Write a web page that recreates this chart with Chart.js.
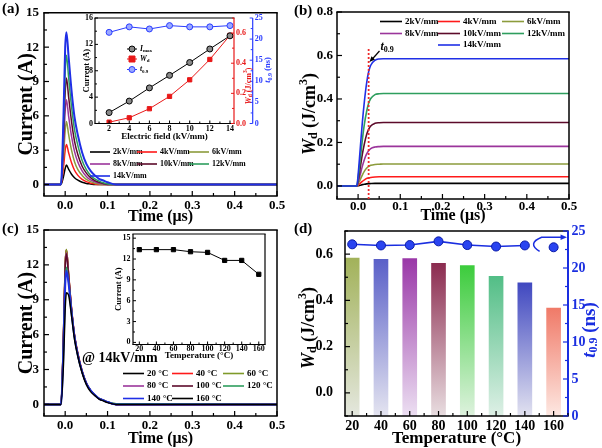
<!DOCTYPE html>
<html><head><meta charset="utf-8">
<script src="https://cdn.jsdelivr.net/npm/chart.js@4.4.1/dist/chart.umd.min.js"></script>
<style>
html,body{margin:0;padding:0;background:#fff;}
#wrap{position:relative;width:602px;height:448px;overflow:hidden;background:#fff}
canvas{position:absolute;left:0;top:0}
</style></head><body>
<div id="wrap">
<canvas id="cA" width="602" height="448"></canvas>
<canvas id="cAi" width="602" height="448"></canvas>
<canvas id="cB" width="602" height="448"></canvas>
<canvas id="cC" width="602" height="448"></canvas>
<canvas id="cCi" width="602" height="448"></canvas>
<canvas id="cD" width="602" height="448"></canvas>
</div>
<script>
// ---------------- DATA ----------------
const FIELDS = ['2kV/mm','4kV/mm','6kV/mm','8kV/mm','10kV/mm','12kV/mm','14kV/mm'];
const FIELD_COLORS = ['#000000','#ff1a1a','#8c9c3c','#9b359b','#5c0a2a','#2e9e5e','#1f2fe6'];

// (a) discharge current vs time (µs)
const TIME_A = [-0.05,-0.01,-0.004,0,0.003,0.008,0.015,0.022,0.03,0.04,0.05,0.06,0.07,0.08,0.09,0.1,0.12,0.5];
const CUR_2KV  = [0,0,0.7,1.4,1.7,1.35,0.9,0.6,0.38,0.2,0.1,0.05,0,0,0,0,0,0];
const CUR_4KV  = [0,0,1.5,3.0,3.5,2.8,1.9,1.25,0.8,0.45,0.25,0.12,0.05,0,0,0,0,0];
const CUR_6KV  = [0,0,2.4,4.7,5.5,4.4,3.0,2.0,1.3,0.8,0.45,0.25,0.12,0.05,0,0,0,0];
const CUR_8KV  = [0,0,3.2,6.4,7.4,6.0,4.2,2.9,1.95,1.2,0.7,0.4,0.25,0.12,0.05,0,0,0];
const CUR_10KV = [0,0,4.1,8.0,9.3,7.7,5.5,3.8,2.6,1.6,1.0,0.6,0.35,0.2,0.1,0,0,0];
const CUR_12KV = [0,0,5.0,9.8,11.3,9.4,6.8,4.8,3.4,2.1,1.3,0.8,0.5,0.3,0.15,0.05,0,0];
const CUR_14KV = [0,0,6.0,12.0,13.3,11.2,8.2,5.9,4.3,2.8,1.8,1.2,0.8,0.5,0.35,0.2,0,0];

// (a) inset
const E_FIELD = [2,4,6,8,10,12,14];
const IMAX_E = [1.65,3.4,5.4,7.3,9.25,11.3,13.3];
const WD_E   = [0.009,0.038,0.098,0.18,0.29,0.425,0.585];
const T09_E  = [21.6,22.9,22.4,23.2,22.9,22.9,23.2];

// (b) discharged energy density vs time
const TIME_B = [-0.05,-0.003,0,0.005,0.01,0.015,0.02,0.025,0.03,0.04,0.05,0.06,0.08,0.5];
const WD_2KV  = [0,0,0.001,0.003,0.006,0.008,0.0095,0.0105,0.011,0.0118,0.012,0.012,0.012,0.012];
const WD_4KV  = [0,0,0.003,0.012,0.021,0.028,0.034,0.037,0.039,0.041,0.042,0.042,0.042,0.042];
const WD_6KV  = [0,0,0.008,0.029,0.05,0.068,0.081,0.09,0.095,0.099,0.1,0.101,0.101,0.101];
const WD_8KV  = [0,0,0.015,0.052,0.09,0.122,0.146,0.162,0.172,0.179,0.181,0.182,0.182,0.182];
const WD_10KV = [0,0,0.024,0.083,0.145,0.195,0.235,0.26,0.276,0.288,0.291,0.292,0.292,0.292];
const WD_12KV = [0,0,0.035,0.12,0.21,0.285,0.34,0.38,0.402,0.42,0.424,0.425,0.425,0.425];
const WD_14KV = [0,0,0.05,0.17,0.29,0.39,0.47,0.525,0.555,0.578,0.584,0.585,0.585,0.585];
const T09_MARK = 0.025;
const T09_MARK_TOP = 0.635;

// (c) current at 14 kV/mm for temperatures
const TEMP_LABELS = ['20 °C','40 °C','60 °C','80 °C','100 °C','120 °C','140 °C','160 °C'];
const TEMP_COLORS = ['#000000','#ff1a1a','#7f9a2a','#9b359b','#5c0a2a','#2e9e5e','#1f2fe6','#000000'];
const TIME_C = [-0.05,-0.01,-0.004,0,0.003,0.008,0.015,0.022,0.03,0.04,0.05,0.06,0.07,0.08,0.09,0.1,0.12,0.5];
const CUR_20C  = [0,0,6.0,12.0,13.3,11.2,8.2,5.9,4.3,2.8,1.8,1.2,0.8,0.5,0.35,0.2,0,0];
const CUR_40C  = [0,0,6.0,12.0,13.3,11.3,8.3,6.0,4.4,2.9,1.85,1.2,0.8,0.5,0.35,0.2,0,0];
const CUR_60C  = [0,0,6.1,12.1,13.35,11.2,8.2,5.9,4.3,2.8,1.8,1.2,0.8,0.5,0.35,0.2,0.05,0];
const CUR_80C  = [0,0,5.8,11.7,13.05,11.1,8.2,5.9,4.3,2.8,1.8,1.2,0.8,0.5,0.35,0.2,0,0];
const CUR_100C = [0,0,5.8,11.6,12.95,11.0,8.1,5.9,4.3,2.8,1.8,1.2,0.8,0.5,0.35,0.2,0,0];
const CUR_120C = [0,0,5.0,10.5,11.8,10.6,8.0,5.8,4.2,2.8,1.8,1.2,0.8,0.5,0.35,0.2,0.05,0];
const CUR_140C = [0,0,4.8,10.2,11.5,10.4,7.9,5.8,4.2,2.8,1.8,1.2,0.8,0.5,0.35,0.2,0,0];
const CUR_160C = [0,0,3.5,8.2,9.6,9.4,7.6,5.6,4.1,2.7,1.7,1.1,0.75,0.45,0.3,0.15,0,0];

// (c) inset
const TEMPS = [20,40,60,80,100,120,140,160];
const IMAX_T = [13.35,13.35,13.35,13.05,12.95,11.8,11.8,9.8];

// (d)
const WD_TEMP  = [0.583,0.578,0.581,0.560,0.551,0.504,0.476,0.367];
const T09_TEMP = [23.2,23.05,23.1,23.6,23.1,22.9,23.05,22.8];
const BAR_TOP_COLORS    = ['#a2b25a','#5a60c8','#9a38a8','#8c2c50','#3ccc3c','#52be86','#4048c0','#f07a68'];
const BAR_BOTTOM_COLORS = ['#e4e7de','#e4e4f0','#ecdff2','#e8dde0','#def2de','#def0e6','#e2e2f0','#fde8e2'];

// tick values
const TICKS_TIME = [0,0.1,0.2,0.3,0.4,0.5];
const TICKS_CURRENT = [0,3,6,9,12,15];
const TICKS_WD = [0,0.2,0.4,0.6,0.8];
const TICKS_E = [2,4,6,8,10,12,14];
const TICKS_IA = [0,4,8,12,16];
const TICKS_WA = [0,0.2,0.4,0.6];
const TICKS_TA = [0,5,10,15,20,25];
const TICKS_TEMP = [20,40,60,80,100,120,140,160];
const TICKS_IC = [0,3,6,9,12,15];
const TICKS_WDD = [0,0.2,0.4,0.6];
const TICKS_T09 = [0,5,10,15,20,25];

// ---------------- SETUP ----------------
const F = "'Liberation Serif','Times New Roman',serif";
Chart.defaults.font.family = F;
Chart.defaults.font.weight = 'bold';
Chart.defaults.color = '#000';
Chart.defaults.animation = false;
Chart.defaults.responsive = false;
Chart.defaults.devicePixelRatio = 1;
Chart.defaults.events = [];
Chart.defaults.plugins.legend.display = false;
Chart.defaults.plugins.tooltip.enabled = false;

const BLUE = '#1a2ee0';
const RED = '#e81818';
const f1 = v => Number(v).toFixed(1);

function pf(p){ return (p.italic?'italic ':'') + 'bold ' + p.size + 'px ' + F; }
function drawRich(ctx, x, y, parts, opt){
  opt = opt || {};
  ctx.save();
  ctx.translate(x, y);
  if (opt.rot) ctx.rotate(opt.rot*Math.PI/180);
  ctx.textBaseline = 'middle'; ctx.textAlign = 'left';
  let total = 0;
  const ws = parts.map(p => { ctx.font = pf(p); const w = ctx.measureText(p.t).width; total += w; return w; });
  let cx = opt.align === 'left' ? 0 : (opt.align === 'right' ? -total : -total/2);
  parts.forEach((p,i) => { ctx.font = pf(p); ctx.fillStyle = p.color || opt.color || '#000'; ctx.fillText(p.t, cx, p.dy || 0); cx += ws[i]; });
  ctx.restore();
}
function arrowHead(ctx, x1, y1, x2, y2, size, color){
  const ang = Math.atan2(y2-y1, x2-x1);
  ctx.save(); ctx.fillStyle = color;
  ctx.beginPath(); ctx.moveTo(x2, y2);
  ctx.lineTo(x2 - size*Math.cos(ang-0.4), y2 - size*Math.sin(ang-0.4));
  ctx.lineTo(x2 - size*Math.cos(ang+0.4), y2 - size*Math.sin(ang+0.4));
  ctx.closePath(); ctx.fill(); ctx.restore();
}
function drawMarker(ctx, ds, x, y){
  const r = ds.pointRadius || 3;
  ctx.save(); ctx.fillStyle = ds.pointBackgroundColor || ds.borderColor; ctx.strokeStyle = ds.pointBorderColor || ds.borderColor; ctx.lineWidth = 1;
  ctx.beginPath();
  if (ds.pointStyle === 'rect') ctx.rect(x-r, y-r, 2*r, 2*r); else ctx.arc(x, y, r, 0, Math.PI*2);
  ctx.fill(); ctx.stroke(); ctx.restore();
}

function decorPlugin(cfg){
  return { id:'decor', afterDraw(chart){
    const ctx = chart.ctx, a = chart.chartArea;
    ctx.save();
    ctx.setLineDash([]);
    if (cfg.frame){
      const fr = cfg.frame;
      const side = (c,w,x1,y1,x2,y2) => { ctx.strokeStyle = c; ctx.lineWidth = w; ctx.beginPath(); ctx.moveTo(x1,y1); ctx.lineTo(x2,y2); ctx.stroke(); };
      const w = fr.width || 1.5;
      side(fr.top||'#000', w, a.left-w/2, a.top, a.right+w/2, a.top);
      side(fr.bottom||'#000', w, a.left-w/2, a.bottom, a.right+w/2, a.bottom);
      side(fr.left||'#000', w, a.left, a.top, a.left, a.bottom);
      side(fr.right||'#000', fr.rightWidth||w, a.right, a.top, a.right, a.bottom);
    }
    (cfg.axisLines||[]).forEach(l => {
      const s = chart.scales[l.scale];
      ctx.strokeStyle = l.color; ctx.lineWidth = l.width || 1.5;
      ctx.beginPath(); ctx.moveTo(s.left, a.top); ctx.lineTo(s.left, a.bottom); ctx.stroke();
    });
    (cfg.ticks||[]).forEach(t => {
      const s = chart.scales[t.scale]; if (!s) return;
      const vals = s.ticks.map(k => k.value);
      ctx.strokeStyle = t.color || '#000'; ctx.lineWidth = t.width || 1.2;
      const draw = (v, len) => {
        const p = s.getPixelForValue(v);
        ctx.beginPath();
        if (s.position === 'bottom'){ ctx.moveTo(p, s.top); ctx.lineTo(p, s.top-len); }
        else if (s.position === 'left'){ ctx.moveTo(s.right, p); ctx.lineTo(s.right+len, p); }
        else { ctx.moveTo(s.left, p); ctx.lineTo(s.left-len, p); }
        ctx.stroke();
      };
      vals.forEach(v => draw(v, t.len));
      if (t.minor && vals.length > 1){
        const step = (vals[1]-vals[0])/(t.minor+1);
        for (let v = vals[0]-step; v >= s.min-1e-9; v -= step) draw(v, t.mlen);
        vals.forEach(v0 => { for (let k=1;k<=t.minor;k++){ const v = v0+k*step; if (v <= s.max+1e-9) draw(v, t.mlen); } });
      }
    });
    if (cfg.legend){
      const L = cfg.legend;
      L.items.forEach(it => {
        const ds = chart.data.datasets[it.ds];
        ctx.strokeStyle = ds.borderColor; ctx.lineWidth = L.lw || 1.6;
        ctx.beginPath(); ctx.moveTo(it.x, it.y); ctx.lineTo(it.x+L.len, it.y); ctx.stroke();
        if (L.marker) drawMarker(ctx, ds, it.x+L.len/2, it.y);
        const parts = it.parts || [{t: ds.label, size: L.size}];
        drawRich(ctx, it.x+L.len+(L.gap||3), it.y, parts, {align:'left'});
      });
    }
    (cfg.texts||[]).forEach(t => drawRich(ctx, t.x, t.y, t.parts, t));
    if (cfg.extra) cfg.extra(chart, ctx, a);
    ctx.restore();
  }};
}

function axis(o){
  const s = {
    type:'linear', min:o.min, max:o.max, position:o.pos, offset:false,
    grid:{display:false, drawTicks:false, offset:false}, border:{display:false},
    ticks:{font:{size:o.fs}, padding:o.pad, color:o.color||'#000', autoSkip:false, maxRotation:0, minRotation:0,
           callback: o.fmt || (v => String(v))},
    afterBuildTicks: sc => { sc.ticks = o.ticks.map(v => ({value:v})); },
    afterFit: sc => { if (o.pos === 'bottom') sc.height = o.size; else sc.width = o.size; }
  };
  if (o.weight !== undefined) s.weight = o.weight;
  if (o.title) s.title = {display:true, text:o.title, color:o.color||'#000', font:{size:o.tfs}, padding:o.tpad};
  return s;
}
function xy(xs, ys){ return xs.map((x,i) => ({x:x, y:ys[i]})); }

// ---------------- (a) ----------------
const SERIES_A = [CUR_2KV,CUR_4KV,CUR_6KV,CUR_8KV,CUR_10KV,CUR_12KV,CUR_14KV];
new Chart(document.getElementById('cA'), {
  type:'line',
  data:{datasets: SERIES_A.map((arr,i) => ({label:FIELDS[i], data:xy(TIME_A, arr), borderColor:FIELD_COLORS[i],
        borderWidth: i===6 ? 2 : 1.5, pointRadius:0, cubicInterpolationMode:'monotone', order:7-i}))},
  options:{
    layout:{padding:{left:0, top:10, right:325, bottom:222}},
    scales:{
      x: axis({pos:'bottom', min:-0.05, max:0.5, ticks:TICKS_TIME, fs:13, pad:2, size:30, fmt:f1, title:'Time (μs)', tfs:16, tpad:{top:0,bottom:0}}),
      y: axis({pos:'left', min:-1, max:15, ticks:TICKS_CURRENT, fs:13, pad:5, size:44, title:'Current (A)', tfs:20, tpad:{top:15,bottom:0}})
    }
  },
  plugins:[decorPlugin({
    frame:{},
    ticks:[{scale:'x',len:5,mlen:3,minor:1},{scale:'y',len:5,mlen:3,minor:1}],
    legend:{size:8, len:20, items:[
      {ds:0,x:90,y:152},{ds:1,x:137,y:152},{ds:2,x:189,y:152},
      {ds:3,x:90,y:164},{ds:4,x:137,y:164},{ds:5,x:189,y:164},
      {ds:6,x:90,y:176}]},
    texts:[{x:2,y:9,align:'left',parts:[{t:'(a)',size:15}]}]
  })]
});

// ---------------- (a) inset ----------------
new Chart(document.getElementById('cAi'), {
  type:'line',
  data:{datasets:[
    {label:'Imax', data:xy(E_FIELD, IMAX_E), yAxisID:'yI', borderColor:'#000', borderWidth:1, pointRadius:3,
     pointStyle:'circle', pointBackgroundColor:'#8a8a8a', pointBorderColor:'#000', pointBorderWidth:1},
    {label:'Wd', data:xy(E_FIELD, WD_E), yAxisID:'yW', borderColor:RED, borderWidth:1, pointRadius:3,
     pointStyle:'rect', pointBackgroundColor:RED, pointBorderColor:RED},
    {label:'t0.9', data:xy(E_FIELD, T09_E), yAxisID:'yT', borderColor:'#2a3cff', borderWidth:1, pointRadius:3,
     pointStyle:'circle', pointBackgroundColor:'#9aa8ff', pointBorderColor:'#2a3cff', pointBorderWidth:1}
  ]},
  options:{
    layout:{padding:{left:80, top:18, right:327, bottom:306}},
    scales:{
      x: axis({pos:'bottom', min:0.6, max:14.4, ticks:TICKS_E, fs:8, pad:1, size:18.5, title:'Electric field (kV/mm)', tfs:9, tpad:{top:0,bottom:0}}),
      yI: axis({pos:'left', min:0, max:16, ticks:TICKS_IA, fs:8, pad:2, size:15, title:'Current (A)', tfs:8.5, tpad:{top:1.9,bottom:0}}),
      yW: axis({pos:'right', min:0, max:0.7, ticks:TICKS_WA, fs:8, pad:2, size:18.7, color:RED, fmt:f1, weight:0}),
      yT: axis({pos:'right', min:0, max:25, ticks:TICKS_TA, fs:8, pad:2, size:22.3, color:'#2a3cff', weight:1})
    }
  },
  plugins:[decorPlugin({
    frame:{right:RED, width:1.2},
    axisLines:[{scale:'yT', color:'#2a3cff', width:1.2}],
    ticks:[{scale:'x',len:3,mlen:2,minor:1,width:1},{scale:'yI',len:3,mlen:2,minor:1,width:1},
           {scale:'yW',len:3,mlen:2,minor:1,color:RED,width:1},{scale:'yT',len:3,mlen:2,minor:1,color:'#2a3cff',width:1}],
    legend:{len:10, lw:1, marker:true, items:[
      {ds:0,x:127,y:49,parts:[{t:'I',italic:1,size:7.5},{t:'max',size:5,dy:2}]},
      {ds:1,x:127,y:59,parts:[{t:'W',italic:1,size:7.5},{t:'d',size:5,dy:2}]},
      {ds:2,x:127,y:69.5,parts:[{t:'t',italic:1,size:7.5},{t:'0.9',size:5,dy:2}]}]},
    texts:[
      {x:248.5,y:86,rot:-90,color:RED,parts:[{t:'W',italic:1,size:8},{t:'d',size:5.5,dy:2},{t:' (J/cm',size:8},{t:'3',size:5.5,dy:-3},{t:')',size:8}]},
      {x:268,y:70,rot:-90,color:'#2a3cff',parts:[{t:'t',italic:1,size:8.5},{t:'0.9',size:6,dy:2},{t:' (ns)',size:8.5}]}
    ]
  })]
});

// ---------------- (b) ----------------
const SERIES_B = [WD_2KV,WD_4KV,WD_6KV,WD_8KV,WD_10KV,WD_12KV,WD_14KV];
new Chart(document.getElementById('cB'), {
  type:'line',
  data:{datasets: SERIES_B.map((arr,i) => ({label:FIELDS[i], data:xy(TIME_B, arr), borderColor:FIELD_COLORS[i],
        borderWidth:1.6, pointRadius:0, cubicInterpolationMode:'monotone', order:7-i}))},
  options:{
    layout:{padding:{left:290, top:12, right:33, bottom:222}},
    scales:{
      x: axis({pos:'bottom', min:-0.05, max:0.5, ticks:TICKS_TIME, fs:13, pad:0, size:27, fmt:f1, title:'Time (μs)', tfs:16, tpad:{top:0,bottom:0.4}}),
      y: axis({pos:'left', min:-0.06, max:0.8, ticks:TICKS_WD, fs:13, pad:4, size:47, fmt:f1})
    }
  },
  plugins:[decorPlugin({
    frame:{},
    ticks:[{scale:'x',len:5,mlen:3,minor:1},{scale:'y',len:5,mlen:3,minor:1}],
    legend:{size:9, len:22, items:[
      {ds:0,x:380,y:21.5},{ds:1,x:438,y:21.5},{ds:2,x:502,y:21.5},
      {ds:3,x:380,y:33.5},{ds:4,x:438,y:33.5},{ds:5,x:502,y:33.5},
      {ds:6,x:438,y:45}]},
    texts:[
      {x:294,y:11,align:'left',parts:[{t:'(b)',size:15}]},
      {x:310,y:114,rot:-90,parts:[{t:'W',italic:1,size:18},{t:'d',size:12,dy:4},{t:' (J/cm',size:18},{t:'3',size:12,dy:-6},{t:')',size:18}]}
    ],
    extra:(chart, ctx, a) => {
      const xs = chart.scales.x, ys = chart.scales.y;
      const px = xs.getPixelForValue(T09_MARK);
      ctx.strokeStyle = '#ee2a2a'; ctx.lineWidth = 1.8; ctx.setLineDash([2,2]);
      ctx.beginPath(); ctx.moveTo(px, a.bottom); ctx.lineTo(px, ys.getPixelForValue(T09_MARK_TOP)); ctx.stroke();
      ctx.setLineDash([]);
      const tx = xs.getPixelForValue(0.027), ty = ys.getPixelForValue(0.57);
      const sx = tx + 10, sy = ty - 11;
      ctx.strokeStyle = '#000'; ctx.lineWidth = 1.2;
      ctx.beginPath(); ctx.moveTo(sx, sy); ctx.lineTo(tx+2, ty-2); ctx.stroke();
      arrowHead(ctx, sx, sy, tx, ty, 6, '#000');
      drawRich(ctx, sx+1, sy-4, [{t:'t',italic:1,size:12},{t:'0.9',size:8,dy:3}], {align:'left'});
    }
  })]
});

// ---------------- (c) ----------------
const SERIES_C = [CUR_20C,CUR_40C,CUR_60C,CUR_80C,CUR_100C,CUR_120C,CUR_140C,CUR_160C];
new Chart(document.getElementById('cC'), {
  type:'line',
  data:{datasets: SERIES_C.map((arr,i) => ({label:TEMP_LABELS[i], data:xy(TIME_C, arr), borderColor:TEMP_COLORS[i],
        borderWidth: i===6 ? 2 : 1.5, pointRadius:0, cubicInterpolationMode:'monotone', order:8-i}))},
  options:{
    layout:{padding:{left:0, top:230, right:325, bottom:0}},
    scales:{
      x: axis({pos:'bottom', min:-0.05, max:0.5, ticks:TICKS_TIME, fs:13, pad:2, size:32, fmt:f1, title:'Time (μs)', tfs:16, tpad:{top:0,bottom:0}}),
      y: axis({pos:'left', min:-1, max:15, ticks:TICKS_CURRENT, fs:13, pad:5, size:44, title:'Current (A)', tfs:20, tpad:{top:15,bottom:0}})
    }
  },
  plugins:[decorPlugin({
    frame:{},
    ticks:[{scale:'x',len:5,mlen:3,minor:1},{scale:'y',len:5,mlen:3,minor:1}],
    legend:{size:9, len:21, items:[
      {ds:0,x:123,y:373.5},{ds:1,x:172,y:373.5},{ds:2,x:223,y:373.5},
      {ds:3,x:123,y:386},{ds:4,x:172,y:386},{ds:5,x:223,y:386},
      {ds:6,x:123,y:398.5},{ds:7,x:172,y:398.5}]},
    texts:[
      {x:2,y:229,align:'left',parts:[{t:'(c)',size:15}]},
      {x:82,y:358,align:'left',parts:[{t:'@ 14kV/mm',size:14}]}
    ]
  })]
});

// ---------------- (c) inset ----------------
new Chart(document.getElementById('cCi'), {
  type:'line',
  data:{datasets:[{label:'Imax', data:xy(TEMPS, IMAX_T), borderColor:'#000', borderWidth:1, pointRadius:3,
        pointStyle:'rect', pointBackgroundColor:'#000', pointBorderColor:'#000'}]},
  options:{
    layout:{padding:{left:112, top:234, right:337, bottom:86}},
    scales:{
      x: axis({pos:'bottom', min:12.6, max:167.3, ticks:TICKS_TEMP, fs:8, pad:0, size:17.5, title:'Temperature (°C)', tfs:9, tpad:{top:0,bottom:0.6}}),
      y: axis({pos:'left', min:-0.3, max:15.6, ticks:TICKS_IC, fs:8, pad:2.5, size:21, title:'Current (A)', tfs:8.5, tpad:{top:1.9,bottom:0}})
    }
  },
  plugins:[decorPlugin({
    frame:{width:1.2},
    ticks:[{scale:'x',len:3,mlen:2,minor:1,width:1},{scale:'y',len:3,mlen:2,minor:1,width:1}]
  })]
});

// ---------------- (d) ----------------
new Chart(document.getElementById('cD'), {
  type:'bar',
  data:{datasets:[
    {type:'line', label:'t0.9', data:xy(TEMPS, T09_TEMP), yAxisID:'yT', xAxisID:'x', borderColor:BLUE, borderWidth:1.6,
     pointRadius:4.5, pointBackgroundColor:'#2a44f0', pointBorderColor:'#0a1aa8', pointBorderWidth:1, tension:0, order:0,
     segment:{borderColor: c => c.p1DataIndex === 7 ? 'rgba(0,0,0,0)' : undefined}},
    {type:'bar', label:'Wd', data:xy(TEMPS, WD_TEMP), yAxisID:'yW', xAxisID:'x', base:-0.1, barThickness:14, order:1,
     backgroundColor: c => {
       const ch = c.chart, a = ch.chartArea, i = c.dataIndex;
       if (!a || i === undefined || !ch.scales.yW) return BAR_TOP_COLORS[i||0];
       const top = ch.scales.yW.getPixelForValue(WD_TEMP[i]);
       const g = ch.ctx.createLinearGradient(0, top, 0, a.bottom);
       g.addColorStop(0, BAR_TOP_COLORS[i]); g.addColorStop(1, BAR_BOTTOM_COLORS[i]);
       return g;
     }}
  ]},
  options:{
    layout:{padding:{left:290, top:231, right:0, bottom:0}},
    scales:{
      x: axis({pos:'bottom', min:15, max:170, ticks:TICKS_TEMP, fs:14, pad:2.3, size:32, title:'Temperature (°C)', tfs:17, tpad:{top:0,bottom:-1}}),
      yW: axis({pos:'left', min:-0.1, max:0.7, ticks:TICKS_WDD, fs:14, pad:12, size:55, fmt:f1}),
      yT: axis({pos:'right', min:0, max:25, ticks:TICKS_T09, fs:14, pad:3.5, size:34, color:BLUE})
    }
  },
  plugins:[decorPlugin({
    frame:{right:BLUE, rightWidth:2},
    ticks:[{scale:'x',len:5,mlen:3,minor:1},{scale:'yW',len:5,mlen:3,minor:1},{scale:'yT',len:5,mlen:3,minor:1,color:BLUE}],
    texts:[
      {x:294,y:229,align:'left',parts:[{t:'(d)',size:15}]},
      {x:309,y:328,rot:-90,parts:[{t:'W',italic:1,size:18},{t:'d',size:12,dy:4},{t:' (J/cm',size:18},{t:'3',size:12,dy:-6},{t:')',size:18}]},
      {x:590,y:330,rot:-90,color:BLUE,parts:[{t:'t',italic:1,size:19},{t:'0.9',size:12,dy:4},{t:' (ns)',size:19}]}
    ],
    extra:(chart, ctx, a) => {
      const xs = chart.scales.x, yT = chart.scales.yT;
      const x160 = xs.getPixelForValue(TEMPS[7]), y = yT.getPixelForValue(T09_TEMP[7]);
      ctx.strokeStyle = BLUE; ctx.lineWidth = 1.5;
      ctx.beginPath(); ctx.moveTo(x160-14, y+4); ctx.quadraticCurveTo(x160-27, y-4, x160-12, y-10);
      ctx.lineTo(a.right-4, y-10); ctx.stroke();
      arrowHead(ctx, a.right-12, y-10, a.right-1, y-10, 7, BLUE);
    }
  })]
});
</script>
</body></html>
